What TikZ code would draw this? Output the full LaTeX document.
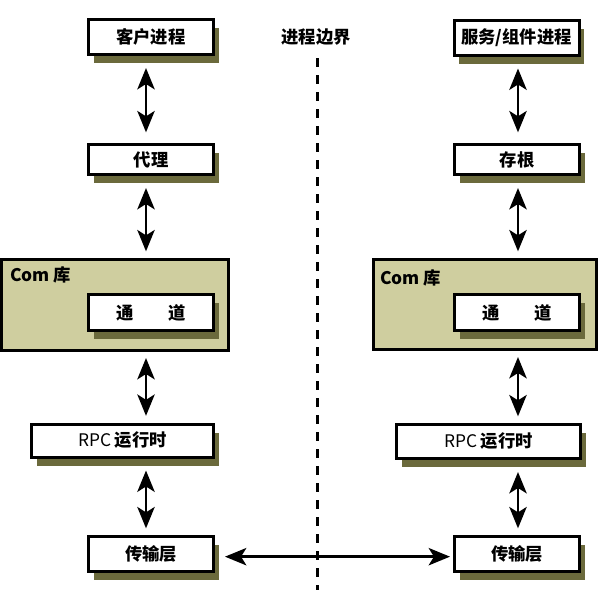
\documentclass[tikz,border=0pt]{standalone}
\usepackage{fontspec}
\setmainfont{Noto Sans CJK SC}
\usetikzlibrary{arrows.meta,shadows}
\definecolor{shadowolive}{RGB}{107,106,60}
\definecolor{comkhaki}{RGB}{207,206,159}
\tikzset{
  boxfont/.style={font=\fontsize{13pt}{15pt}\selectfont\bfseries},
  layer/.style={draw,line width=2.25pt,fill=white,inner sep=1pt,minimum width=93.75pt,boxfont,
    drop shadow={shadow xshift=4pt,shadow yshift=-6.4pt,fill=shadowolive,opacity=1}},
  comlib/.style={draw,line width=2.25pt,fill=comkhaki},
  comtext/.style={anchor=west,inner sep=0pt,boxfont},
  dbl/.style={{Stealth[length=16pt,width=13pt,inset=4pt]}-{Stealth[length=16pt,width=13pt,inset=4pt]},
    line width=2pt,shorten <=9pt,shorten >=5pt},
  boundary/.style={line width=2.25pt,dash pattern=on 6.75pt off 6pt}
}
\begin{document}
\begin{tikzpicture}[x=0.75pt,y=-0.75pt]
\useasboundingbox (0,0) rectangle (601,597);
% process boundary
\node (bj) at (316,37) [boxfont]{进程边界};
\coordinate (bjend) at (317,590);
\draw[boundary,shorten <=6pt] (bj.south -| bjend) -- (bjend);
% client side
\node (comL) at (115,305) [comlib,minimum width=170.25pt,minimum height=68.25pt]{};
\node (comLt) at (10,275) [comtext]{Com 库};
\node (kehu) at (151,37) [layer,minimum height=26.25pt]{客户进程};
\node (daili) at (151,159.5) [layer,minimum height=22.5pt]{代理};
\node (tdL) at (151,312.5) [layer,minimum height=27pt]{通\hspace{26pt}道};
\node (rpcL) at (122.5,440.5) [layer,minimum width=136.5pt,minimum height=24.75pt]{\mdseries RPC \bfseries 运行时\hspace{19pt}};
\node (csL) at (151,554) [layer,minimum height=26.25pt]{传输层};
% server side
\node (comR) at (485,304.5) [comlib,minimum width=167.25pt,minimum height=67.5pt]{};
\node (comRt) at (380,278) [comtext]{Com 库};
\node (fuwu) at (516.5,37.5) [layer,minimum height=26.25pt]{服务/组件进程};
\node (cungen) at (517,159.5) [layer,minimum height=22.5pt]{存根};
\node (tdR) at (517,312.5) [layer,minimum height=27pt]{通\hspace{26pt}道};
\node (rpcR) at (488.5,441.5) [layer,minimum width=138pt,minimum height=25.5pt]{\mdseries RPC \bfseries 运行时\hspace{23pt}};
\node (csR) at (517,554) [layer,minimum height=26.25pt]{传输层};
% arrows
\coordinate (axL) at (146,0);
\coordinate (axR) at (518,0);
\draw[dbl,shorten >=8pt] (kehu.south -| axL) -- (daili.north -| axL);
\draw[dbl] (daili.south -| axL) -- (comL.north -| axL);
\draw[dbl,shorten <=4.5pt] (comL.south -| axL) -- (rpcL.north -| axL);
\draw[dbl] (rpcL.south -| axL) -- (csL.north -| axL);
\draw[dbl,shorten >=8pt] (fuwu.south -| axR) -- (cungen.north -| axR);
\draw[dbl] (cungen.south -| axR) -- (comR.north -| axR);
\draw[dbl,shorten <=4.5pt] (comR.south -| axR) -- (rpcR.north -| axR);
\draw[dbl] (rpcR.south -| axR) -- (csR.north -| axR);
\draw[dbl,shorten <=7.5pt,shorten >=2.25pt] ([yshift=-2pt]csL.east) -- ([yshift=-2pt]csR.west);
\end{tikzpicture}
\end{document}
